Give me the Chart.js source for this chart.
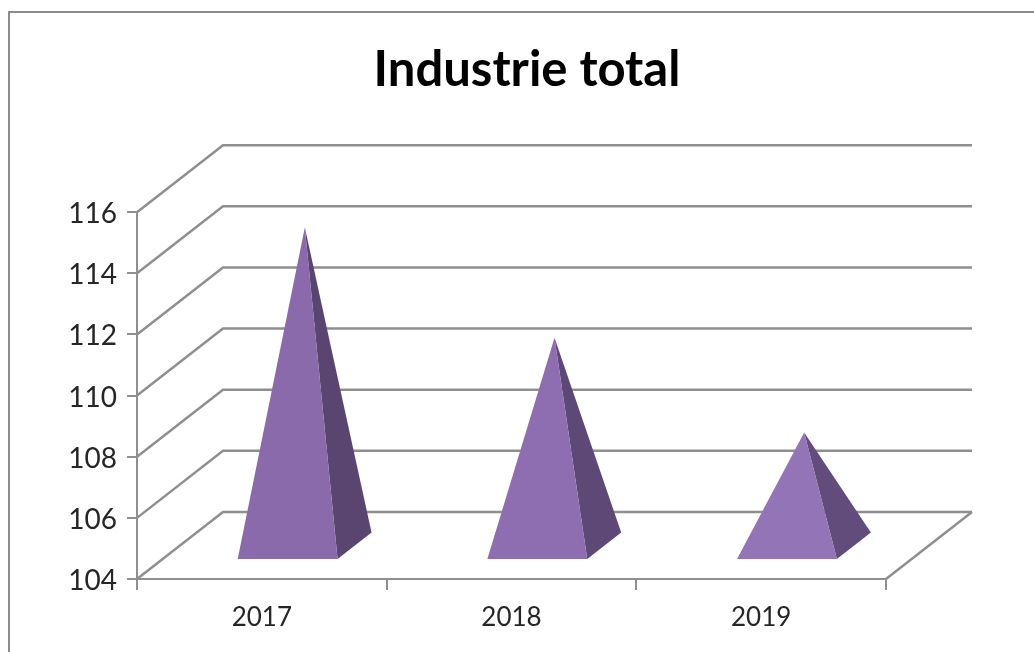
<!DOCTYPE html>
<html>
<head>
<meta charset="utf-8">
<title>Industrie total</title>
<script src="https://cdn.jsdelivr.net/npm/chart.js@4/dist/chart.umd.js"></script>
<style>
html, body { margin: 0; padding: 0; background: #fff; overflow: hidden; }
#frame { position: absolute; left: 8px; top: 11px; width: 1100px; height: 700px; border-left: 2px solid #8c8c8c; border-top: 2px solid #8c8c8c; }
#myChart { position: absolute; left: 0; top: 0; }
</style>
</head>
<body>
<div id="frame"></div>
<canvas id="myChart" width="1034" height="652"></canvas>
<script>
const titleText = 'Industrie total';
const years = ['2017', '2018', '2019'];
const values = [114.4, 110.8, 107.7];
const frontColors = ['#8a6aab', '#8e6eb0', '#9374b6'];
const sideColors = ['#5a4571', '#5d4876', '#614c7c'];

const gray = '#8f8f8f';
const font = 'Lato';
// offset of the back wall from the front plane
const depthX = 86;
const depthY = -67;

// back wall lines and the diagonals going to it
const wallPlugin = {
    id: 'wall',
    beforeDatasetsDraw(chart) {
        const c = chart.ctx, y = chart.scales.y, area = chart.chartArea;
        c.save();
        c.strokeStyle = gray;
        c.lineWidth = 2.5;
        y.ticks.forEach(t => {
            const py = y.getPixelForValue(t.value);
            c.beginPath();
            c.moveTo(area.left, py);
            c.lineTo(area.left + depthX, py + depthY);
            c.lineTo(area.right + depthX, py + depthY);
            c.stroke();
        });
        c.beginPath();
        c.moveTo(area.right, area.bottom);
        c.lineTo(area.right + depthX, area.bottom + depthY);
        c.stroke();
        c.restore();
    }
};

// each bar element gets drawn as a pyramid standing on the floor
const pyramidPlugin = {
    id: 'pyramid',
    afterDatasetsDraw(chart) {
        const c = chart.ctx, area = chart.chartArea;
        const bars = chart.getDatasetMeta(0).data;
        bars.forEach((bar, i) => {
            const front = 0.3, back = 0.695, mid = 0.5;
            const left = bar.x - bar.width / 2 + front * depthX;
            const right = left + bar.width;
            const frontY = area.bottom + front * depthY;
            const backX = right + (back - front) * depthX;
            const backY = area.bottom + back * depthY;
            const topX = bar.x + mid * depthX;
            const topY = bar.y + mid * depthY;

            c.fillStyle = sideColors[i];
            c.beginPath();
            c.moveTo(right, frontY);
            c.lineTo(backX, backY);
            c.lineTo(topX, topY);
            c.closePath();
            c.fill();

            c.fillStyle = frontColors[i];
            c.beginPath();
            c.moveTo(left, frontY);
            c.lineTo(right, frontY);
            c.lineTo(topX, topY);
            c.closePath();
            c.fill();
        });
    }
};

new Chart(document.getElementById('myChart'), {
    type: 'bar',
    data: {
        labels: years,
        datasets: [{
            label: titleText,
            data: values,
            backgroundColor: 'rgba(0,0,0,0)',
            categoryPercentage: 1,
            barPercentage: 0.4
        }]
    },
    plugins: [wallPlugin, pyramidPlugin],
    options: {
        responsive: false,
        animation: false,
        layout: { padding: { left: 20, right: 0, top: 0, bottom: 0 }, autoPadding: false },
        plugins: {
            legend: { display: false },
            tooltip: { enabled: false },
            title: {
                display: true,
                text: titleText,
                color: '#000',
                font: { family: font, size: 49, weight: 'bold', lineHeight: 1.2 },
                padding: { top: 41, bottom: 112.4 }
            }
        },
        scales: {
            x: {
                grid: { color: gray, lineWidth: 2, drawOnChartArea: false, tickLength: 11 },
                border: { color: gray, width: 2 },
                ticks: { color: '#262626', font: { family: font, size: 26 }, padding: 12, maxRotation: 0 },
                afterFit(s) { s.height = 73; }
            },
            y: {
                min: 104,
                max: 116,
                grid: { color: gray, lineWidth: 2, drawOnChartArea: false, tickLength: 10 },
                border: { color: gray, width: 2 },
                ticks: { stepSize: 2, color: '#262626', font: { family: font, size: 28 }, padding: 10, labelOffset: 2 },
                afterFit(s) { s.width = 117; }
            },
            // empty axis, only keeps room on the right for the back wall
            spare: {
                position: 'right',
                grid: { display: false },
                border: { display: false },
                ticks: { display: false },
                afterFit(s) { s.width = 148; }
            }
        }
    }
});
</script>
</body>
</html>
